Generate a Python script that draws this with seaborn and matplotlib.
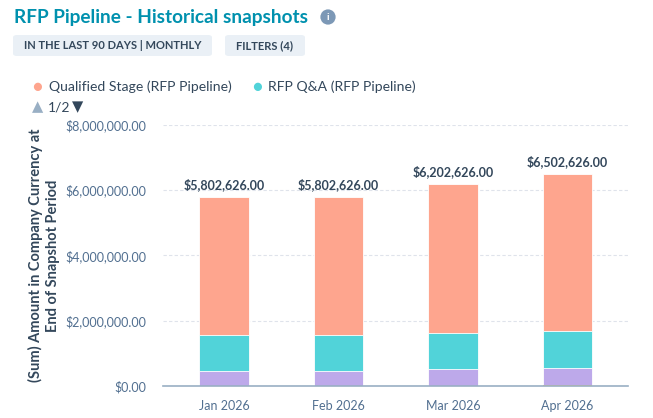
import pandas as pd
import seaborn as sns
import matplotlib.pyplot as plt
from matplotlib.patches import FancyBboxPatch
from matplotlib.ticker import FuncFormatter

months = ["Jan 2026", "Feb 2026", "Mar 2026", "Apr 2026"]
totals = [5802626, 5802626, 6202626, 6502626]
rfp_qa = [1100000, 1100000, 1110000, 1110000]
third_stage = [450000, 450000, 520000, 540000]
fourth_stage = [0, 0, 0, 25000]
yticks = [0, 2000000, 4000000, 6000000, 8000000]

salmon = "#FEA58E"
teal = "#51D3D9"
purple = "#BDA9EA"
orange = "#F5C26B"
dark = "#33475B"
grey = "#516F90"

df = pd.DataFrame({
    "month": months,
    "total": totals,
    "qa_top": [a + b + c for a, b, c in zip(rfp_qa, third_stage, fourth_stage)],
    "purple_top": [b + c for b, c in zip(third_stage, fourth_stage)],
    "fourth": fourth_stage,
})

sns.set_style("white")
plt.rcParams["font.family"] = ["Lato", "DejaVu Sans"]

fig = plt.figure(figsize=(6.53, 4.18), dpi=100)
ax = fig.add_axes([0.25, 0.0766, 0.712, 0.6244])

w = 0.43
sns.barplot(data=df, x="month", y="total", color=salmon, width=w, ax=ax, saturation=1, edgecolor="white", linewidth=0.6)
sns.barplot(data=df, x="month", y="qa_top", color=teal, width=w, ax=ax, saturation=1, edgecolor="white", linewidth=0.6)
sns.barplot(data=df, x="month", y="purple_top", color=purple, width=w, ax=ax, saturation=1, edgecolor="white", linewidth=0.6)
sns.barplot(data=df, x="month", y="fourth", color=orange, width=w, ax=ax, saturation=1, linewidth=0)

ax.set_ylim(0, 8000000)
ax.set_xlim(-0.53, 3.53)
ax.set_yticks(yticks)
ax.yaxis.set_major_formatter(FuncFormatter(lambda v, p: f"${v:,.2f}"))
ax.grid(axis="y", color="#DFE3EB", linestyle=(0, (3, 2)), linewidth=0.8)
ax.set_axisbelow(True)
for s in ["top", "right", "left"]:
    ax.spines[s].set_visible(False)
ax.spines["bottom"].set_color("#99AFC4")
ax.spines["bottom"].set_linewidth(1.2)
ax.tick_params(axis="both", length=0, labelsize=9, colors=grey)
ax.tick_params(axis="y", pad=12)
ax.tick_params(axis="x", pad=10)
for lab in ax.get_xticklabels() + ax.get_yticklabels():
    lab.set_color(grey)
ax.set_xlabel("")
ax.set_ylabel("(Sum) Amount in Company Currency at\nEnd of Snapshot Period",
              fontsize=10.5, fontweight="bold", color=dark, labelpad=4, linespacing=1.25)

for i, t in enumerate(totals):
    ax.text(i, t + 180000, f"${t:,.2f}", ha="center", va="bottom",
            fontsize=9, fontweight="bold", color=dark)

# header
fig.text(14 / 653, 1 - 18 / 418, "RFP Pipeline - Historical snapshots", fontsize=13.7,
         fontweight="bold", color="#0091AE", va="center")
fig.text(328 / 653, 1 - 17 / 418, "i", fontsize=7.5, fontweight="bold", color="white",
         ha="center", va="center",
         bbox=dict(boxstyle="circle,pad=0.3", fc="#7C98B6", ec="none"))

for x0, x1, fs, label in [(13, 212, 8.0, "IN THE LAST 90 DAYS | MONTHLY"),
                          (225, 305, 8.0, "FILTERS (4)")]:
    box = FancyBboxPatch((x0 / 653, 1 - 56 / 418), (x1 - x0) / 653, 21 / 418,
                         boxstyle="round,pad=0,rounding_size=0.006",
                         transform=fig.transFigure, fc="#EAF0F6", ec="none")
    fig.patches.append(box)
    fig.text((x0 + x1) / 2 / 653, 1 - 45.5 / 418, label, fontsize=fs, fontweight="bold",
             color=dark, ha="center", va="center")

# legend
for cx, tx, col, label in [(37, 49, salmon, "Qualified Stage (RFP Pipeline)"),
                           (257, 268, teal, "RFP Q&A (RFP Pipeline)")]:
    fig.text(cx / 653, 1 - 87 / 418, "\u25cf", fontsize=12, color=col, ha="center", va="center")
    fig.text(tx / 653, 1 - 87 / 418, label, fontsize=10.1, color=dark, va="center")
fig.text(32 / 653, 1 - 107 / 418, "\u25b2", fontsize=10.5, color="#99AFC4", va="center")
fig.text(48 / 653, 1 - 107 / 418, "1/2", fontsize=10, color=dark, va="center")
fig.text(72 / 653, 1 - 107 / 418, "\u25bc", fontsize=10.5, color=dark, va="center")

fig.savefig("out.png", dpi=100)
